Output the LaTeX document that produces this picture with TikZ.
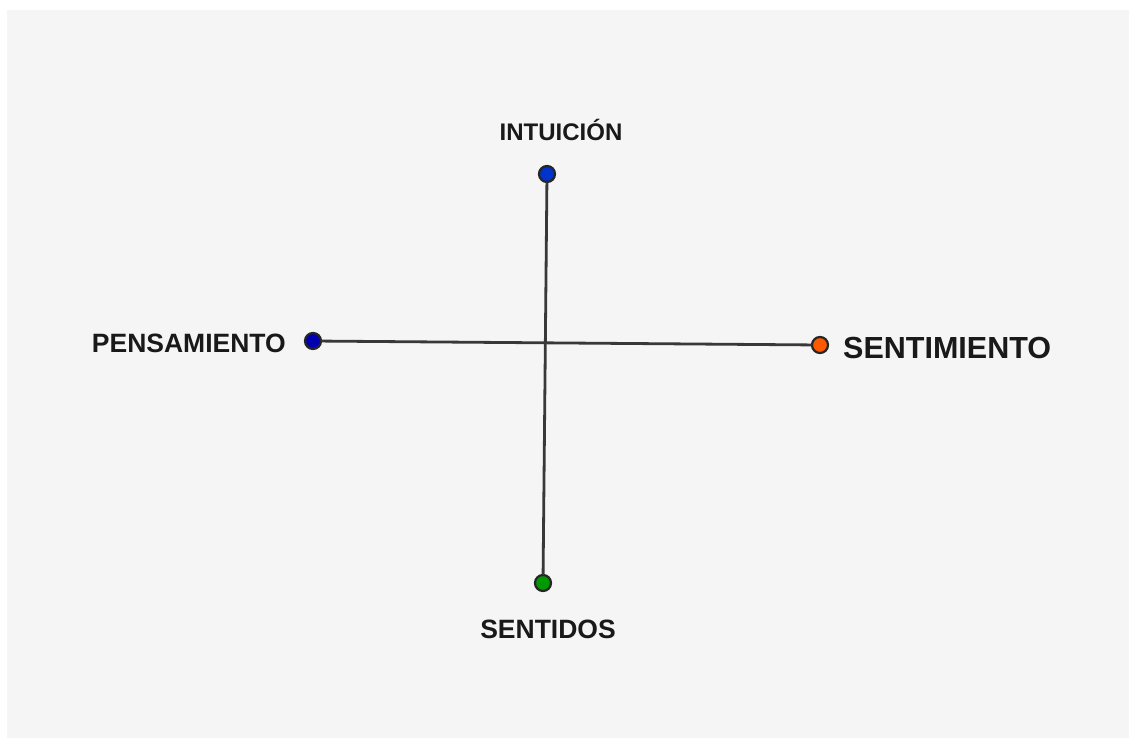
\documentclass[tikz,border=0pt]{standalone}
\usepackage{fontspec}
\setmainfont{Liberation Sans}
\begin{document}
\begin{tikzpicture}[x=1pt,y=-1pt,
  dot/.style={circle,draw=black!85,line width=2.2pt,minimum size=16pt,inner sep=0pt},
  axis/.style={draw=black!78,line width=2.8pt,line cap=round},
  lbl/.style={text=black!90,inner sep=0pt}]
\fill[white] (0,0) rectangle (1129,738);
\fill[black!4] (7,10) rectangle (1129,738);
\useasboundingbox (0,0) rectangle (1129,738);
% dots
\node[dot,fill=blue!75!cyan!80!black] (int) at (547,174) {};
\node[dot,fill=blue!70!black] (pen) at (313,341) {};
\node[dot,fill=orange!70!red] (sen) at (820,345) {};
\node[dot,fill=green!60!black] (sid) at (543,583) {};
% axes
\draw[axis] (int) -- (sid);
\draw[axis] (pen) -- (sen);
% labels
\node[lbl,font=\fontsize{24}{24}\selectfont\bfseries] (lint) at (561,130) {INTUICIÓN};
\node[lbl,font=\fontsize{26.5}{26.5}\selectfont\bfseries,anchor=east] (lpen) at (286,343) {PENSAMIENTO};
\node[lbl,font=\fontsize{30.5}{30.5}\selectfont\bfseries,anchor=west] (lsen) at (843,348) {SENTIMIENTO};
\node[lbl,font=\fontsize{26.5}{26.5}\selectfont\bfseries] (lsid) at (548,629) {SENTIDOS};
\end{tikzpicture}
\end{document}
